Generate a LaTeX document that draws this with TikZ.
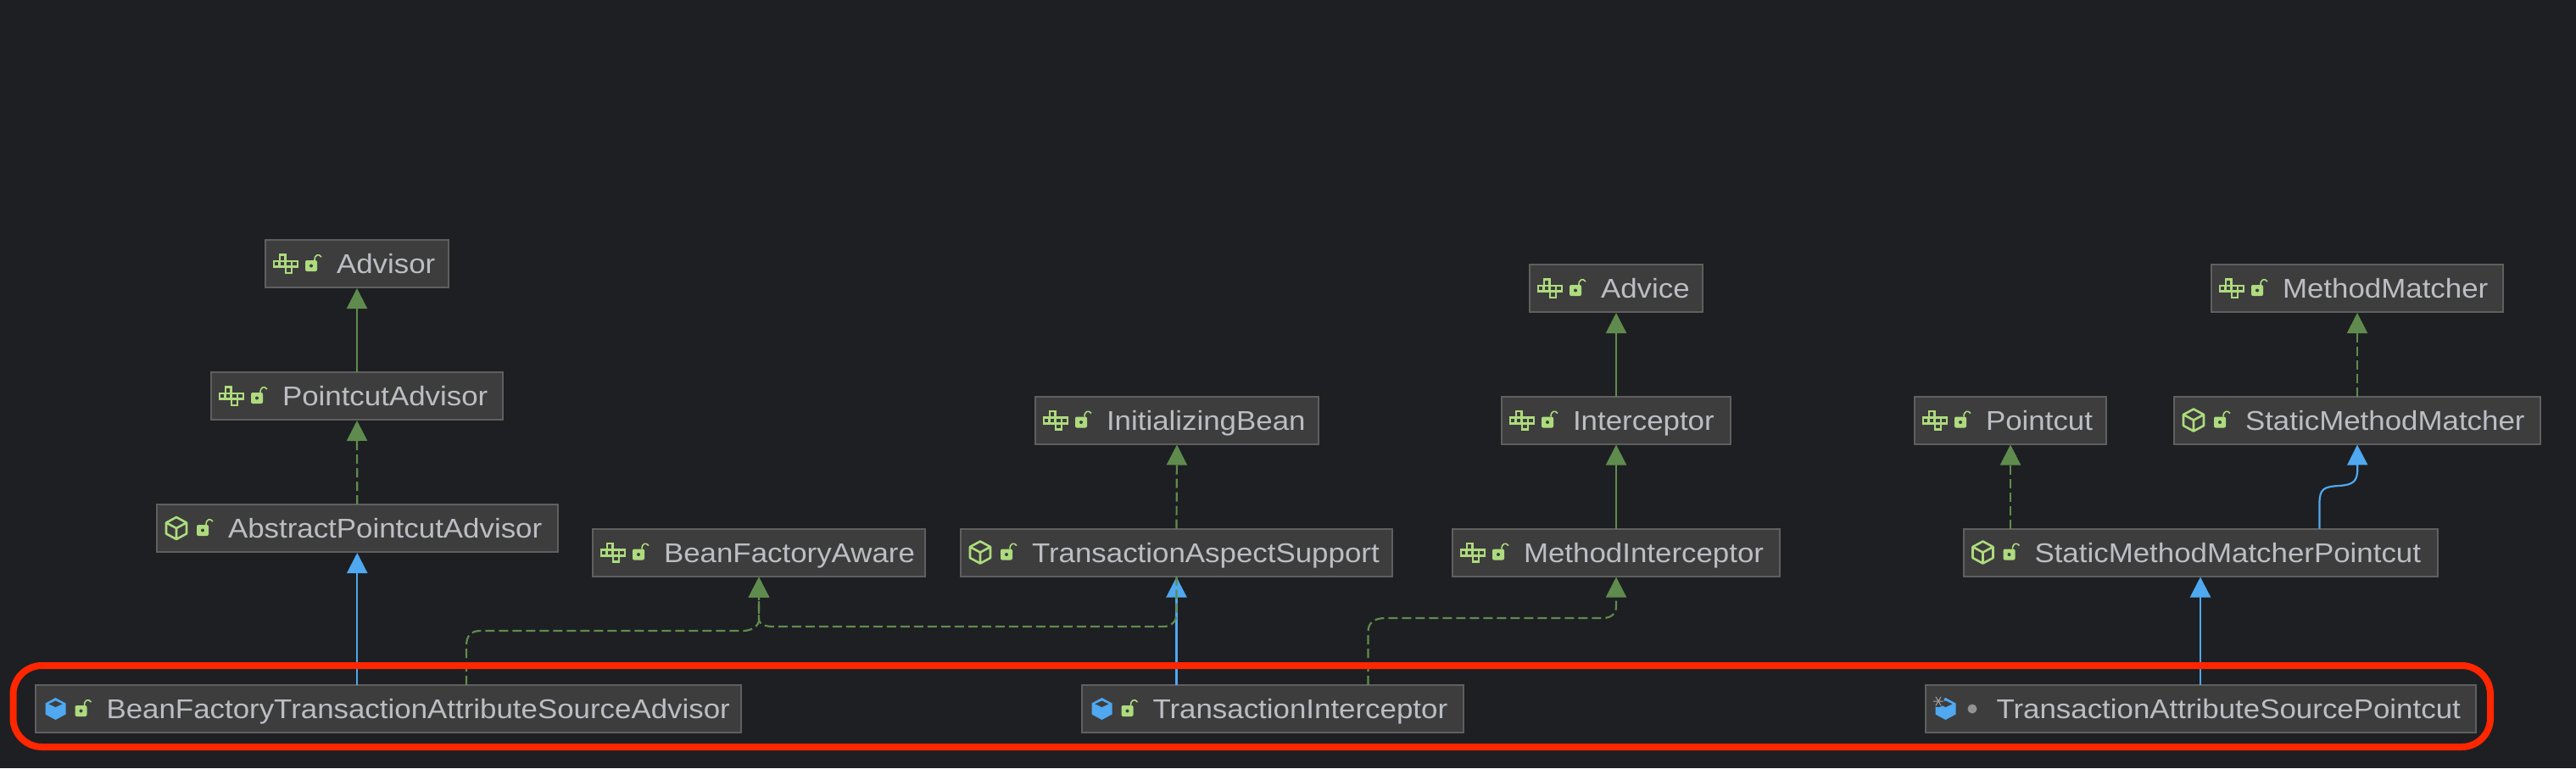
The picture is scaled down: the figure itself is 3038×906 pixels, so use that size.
\documentclass[tikz,border=0pt]{standalone}
\usepackage{fontspec}
\setmainfont[FakeStretch=1.09]{Liberation Sans}
\usetikzlibrary{arrows.meta,calc}
\definecolor{bgc}{HTML}{1E1F22}
\definecolor{boxfill}{HTML}{3D3D3D}
\definecolor{boxline}{HTML}{5F5F5F}
\definecolor{txtc}{HTML}{BCBEC4}
\definecolor{grn}{HTML}{5F8C4E}
\definecolor{blu}{HTML}{4FA8F0}
\definecolor{icog}{HTML}{AEDB7E}
\definecolor{redc}{HTML}{FF2600}
\tikzset{
  clsbox/.style={draw=boxline,fill=boxfill,line width=1pt,inner sep=0pt,outer sep=0pt,
    text=txtc,font=\fontsize{16}{16}\selectfont,text height=11.5pt,text depth=0pt,minimum height=28pt},
  edgebase/.style={line width=1.1pt,shorten >=0.5pt},
  extline/.style={edgebase,draw=grn,-{Triangle[length=12pt,width=12pt,fill=grn]}},
  impline/.style={extline,dash pattern=on 5.5pt off 2.5pt},
  subline/.style={edgebase,draw=blu,-{Triangle[length=12pt,width=12pt,fill=blu]}},
  iconline/.style={draw=icog,line width=1.3pt},
}
\newcommand{\clsnode}[6]{%
  \pgfmathsetlengthmacro{\bw}{(#4-#2)*0.5pt}%
  \node[clsbox,minimum width=\bw] (#1) at ({(#2+#4)/2},{(#3+#5)/2})
    {\makebox[\bw][l]{\hspace*{42pt}#6}};}
\newcommand{\lockicon}[1]{%
  \begin{scope}[shift={(#1.west)}]
    \fill[icog,rounded corners=1pt] (47,-4) rectangle (61,9);
    \fill[boxfill] (54,2.5) circle (1pt);
    \draw[icog,line width=0.8pt] (58,-4) .. controls (58,-11) and (63,-12) .. (66,-8);
  \end{scope}}
\newcommand{\ifaceicon}[1]{%
  \begin{scope}[shift={(#1.west)}]
    \draw[iconline] (10,-3) rectangle (16.3,3.7) (16.3,-3) rectangle (23.7,3.7)
      (23.7,-3) rectangle (31,3.7) (31,-3) rectangle (38,3.7)
      (17,-10.5) rectangle (23.7,-3) (24,3.7) rectangle (31,11);
  \end{scope}\lockicon{#1}}
\newcommand{\cubeicon}[1]{%
  \begin{scope}[shift={(#1.west)}]
    \draw[iconline,line join=round] (23,-13) -- (35,-6.5) -- (35,6.5) -- (23,13) -- (11,6.5) -- (11,-6.5) -- cycle
      (11,-6.5) -- (23,0) -- (35,-6.5) (23,0) -- (23,13);
  \end{scope}\lockicon{#1}}
\newcommand{\bluehex}[1]{%
  \begin{scope}[shift={(#1.west)}]
    \fill[blu] (24,-13) -- (36,-6.5) -- (36,6.5) -- (24,13) -- (12,6.5) -- (12,-6.5) -- cycle;
    \fill[boxfill] (24,-9.5) -- (32,-5.7) -- (24,-2) -- (16,-5.7) -- cycle;
  \end{scope}}
\begin{document}
\begin{tikzpicture}[x=0.5pt,y=-0.5pt]
\useasboundingbox (0,0) rectangle (3038,906);
\fill[bgc] (0,0) rectangle (3038,906);
% classes
\clsnode{advisor}{313}{283}{529}{339}{Advisor}
\clsnode{padvisor}{249}{439}{593}{495}{PointcutAdvisor}
\clsnode{apadvisor}{185}{595}{657.5}{651}{AbstractPointcutAdvisor}
\clsnode{bfaware}{699}{624}{1091}{679}{BeanFactoryAware}
\clsnode{initbean}{1221}{468}{1555}{523}{InitializingBean}
\clsnode{tasupport}{1133}{624}{1642}{679}{TransactionAspectSupport}
\clsnode{advice}{1804}{312}{2008}{368}{Advice}
\clsnode{intercept}{1771}{468}{2041}{523}{Interceptor}
\clsnode{minter}{1713}{624}{2099}{679}{MethodInterceptor}
\clsnode{pointcut}{2258}{468}{2484}{523}{Pointcut}
\clsnode{mmatcher}{2608}{312}{2952}{368}{MethodMatcher}
\clsnode{smatcher}{2564}{468}{2996}{523}{StaticMethodMatcher}
\clsnode{smpointcut}{2315.5}{624}{2874.5}{679}{StaticMethodMatcherPointcut}
\clsnode{bftasa}{41.5}{808}{874}{864}{BeanFactoryTransactionAttributeSourceAdvisor}
\clsnode{tinter}{1275.5}{808}{1726}{864}{TransactionInterceptor}
\clsnode{taspc}{2270.5}{808}{2919.5}{864}{TransactionAttributeSourcePointcut}
% icons
\ifaceicon{advisor}\ifaceicon{padvisor}\cubeicon{apadvisor}\ifaceicon{bfaware}
\ifaceicon{initbean}\cubeicon{tasupport}\ifaceicon{advice}\ifaceicon{intercept}
\ifaceicon{minter}\ifaceicon{pointcut}\ifaceicon{mmatcher}\cubeicon{smatcher}
\cubeicon{smpointcut}
\bluehex{bftasa}\lockicon{bftasa}\bluehex{tinter}\lockicon{tinter}\bluehex{taspc}
\begin{scope}[shift={(taspc.west)}]
  \fill[boxfill] (15.5,-9) circle (3.5pt);
  \draw[txtc!85!black,line width=0.5pt] (9.5,-9) -- (21.5,-9) (12.5,-14) -- (18.5,-4) (12.5,-4) -- (18.5,-14);
  \fill[gray!85!white] (55.5,0) circle (2.75pt);
\end{scope}
% connectors
\draw[extline] (padvisor.north) -- (advisor.south);
\draw[impline] (apadvisor.north) -- (padvisor.south);
\draw[subline] (apadvisor.south |- bftasa.north) -- (apadvisor.south);
\draw[subline] (tasupport.south |- tinter.north) -- (tasupport.south);
\draw[impline] (tasupport.north) -- (initbean.south);
\draw[extline] (intercept.north) -- (advice.south);
\draw[extline] (minter.north) -- (intercept.south);
\draw[impline] (smpointcut.north -| pointcut.south) -- (pointcut.south);
\draw[subline] (smpointcut.south |- taspc.north) -- (smpointcut.south);
\draw[impline] (smatcher.north) -- (mmatcher.south);
\draw[subline] ($(smpointcut.north west)+(420,0)$) -- ++(0,-30)
  .. controls +(0,-17) and +(-17,1) .. (2758,573)
  .. controls (2775,572) and (2780.25,568) .. (2780.25,553) -- (smatcher.south);
\draw[impline] ($(bftasa.north west)+(508.5,0)$) -- (550,762)
  .. controls (550,750) and (555,744) .. (567,744) -- (877,744)
  .. controls (886,744) and (896,738) .. (895,730) -- (bfaware.south);
\draw[impline] (tasupport.south) -- (1387.5,725)
  .. controls (1387.5,732) and (1382,739) .. (1372,739) -- (912,739)
  .. controls (904,739) and (895,737) .. (895,730) -- (bfaware.south);
\draw[impline] ($(tinter.north west)+(338,0)$) -- (1613.5,745)
  .. controls (1613.5,735) and (1620,729) .. (1634,729) -- (1890,729)
  .. controls (1900,729) and (1906,724) .. (1906,715) -- (minter.south);
% highlight
\draw[redc,line width=4pt,rounded corners=17pt] (15.5,785) rectangle (2937,881);
\end{tikzpicture}
\end{document}
